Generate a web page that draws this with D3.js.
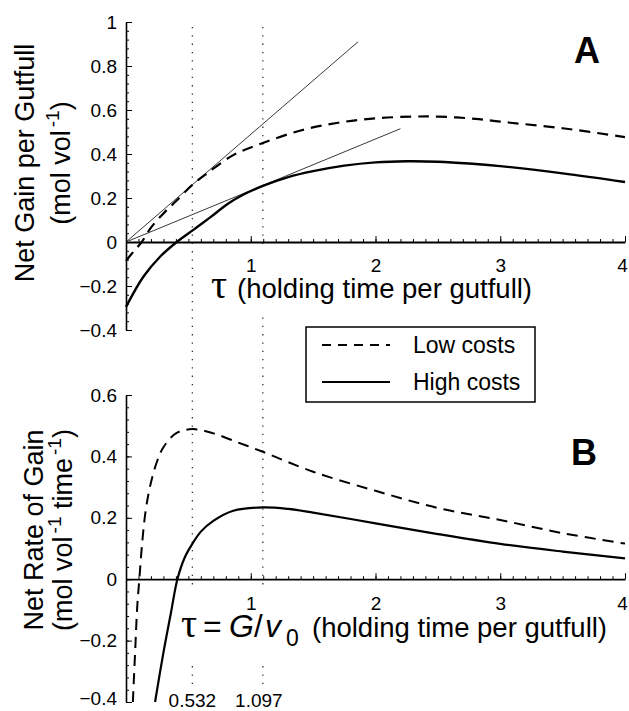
<!DOCTYPE html>
<html lang="en">
<head>
    <meta charset="UTF-8">
    <title>Net gain per gutfull and net rate of gain</title>
    <script src="https://cdnjs.cloudflare.com/ajax/libs/d3/7.8.5/d3.min.js"></script>
    <style>
        body {
            margin: 0;
            padding: 0;
            background-color: white;
        }
        svg text {
            font-family: "Liberation Sans", Arial, Helvetica, sans-serif;
            fill: black;
        }
    </style>
</head>
<body>
    <div id="chart"></div>

    <script>
        // values: [tau, value]
        const lowGain = [
            [0, -0.085], [0.06, -0.044], [0.126, 0], [0.2, 0.065], [0.3, 0.13],
            [0.4, 0.185], [0.532, 0.26], [0.65, 0.312], [0.86, 0.395], [1.097, 0.45],
            [1.4, 0.507], [1.7, 0.542], [2, 0.562], [2.3, 0.57], [2.5, 0.57],
            [2.8, 0.56], [3, 0.547], [3.5, 0.517], [4, 0.477]
        ];
        const highGain = [
            [0, -0.295], [0.139, -0.158], [0.273, -0.067], [0.407, 0], [0.54, 0.055],
            [0.675, 0.112], [0.82, 0.175], [0.95, 0.218], [1.097, 0.255], [1.3, 0.295],
            [1.5, 0.322], [1.75, 0.347], [2, 0.362], [2.25, 0.367], [2.5, 0.365],
            [2.75, 0.357], [3, 0.345], [3.5, 0.312], [4, 0.273]
        ];
        const lowRate = [
            [0.055, -0.4], [0.075, -0.22], [0.09, -0.09], [0.107, 0], [0.13, 0.12],
            [0.16, 0.23], [0.2, 0.315], [0.25, 0.385], [0.3, 0.43], [0.4, 0.475],
            [0.532, 0.489], [0.7, 0.475], [0.9, 0.445], [1.097, 0.415], [1.5, 0.35],
            [2, 0.288], [2.5, 0.232], [3, 0.193], [3.5, 0.15], [4, 0.116]
        ];
        const highRate = [
            [0.233, -0.4], [0.3, -0.239], [0.36, -0.11], [0.412, 0], [0.47, 0.07],
            [0.53, 0.114], [0.6, 0.155], [0.7, 0.19], [0.86, 0.223], [1.097, 0.234],
            [1.3, 0.229], [1.5, 0.217], [2, 0.182], [2.5, 0.147], [3, 0.115],
            [3.5, 0.09], [4, 0.068]
        ];
        // tangent lines from the origin (end points)
        const tangents = [
            [[0, 0], [1.86, 0.91]],
            [[0, 0], [2.2, 0.515]]
        ];
        const optima = [0.532, 1.097];
        const xTicks = [1, 2, 3, 4];
        const gainTicks = [-0.4, -0.2, 0, 0.2, 0.4, 0.6, 0.8, 1];
        const rateTicks = [-0.4, -0.2, 0, 0.2, 0.4, 0.6];
        const legendItems = ["Low costs", "High costs"];

        const width = 629;
        const height = 711;

        const svg = d3.select("#chart")
            .append("svg")
            .attr("width", width)
            .attr("height", height);

        const x = d3.scaleLinear().domain([0, 4]).range([126, 625]);
        const yA = d3.scaleLinear().domain([-0.4, 1]).range([330, 22]);
        const yB = d3.scaleLinear().domain([-0.4, 0.6]).range([702, 395]);

        const minorX = d3.range(1, 40).map(i => i / 10);

        // dotted lines at the optimal holding times
        svg.append("g")
            .selectAll("line")
            .data(optima)
            .join("line")
            .attr("x1", d => x(d))
            .attr("x2", d => x(d))
            .attr("y1", 27)
            .attr("y2", 684)
            .attr("stroke", "#333")
            .attr("stroke-width", 1.3)
            .attr("stroke-dasharray", "1.3,7");

        // white boxes behind the x axis titles hide the dotted lines there
        svg.append("rect").attr("x", 208).attr("y", 247).attr("width", 335).attr("height", 66).attr("fill", "white");
        svg.append("rect").attr("x", 179).attr("y", 585).attr("width", 435).attr("height", 75).attr("fill", "white");

        function drawAxes(y, ticks, minorStep, bottomShift) {
            const minorY = d3.range(Math.round((y.domain()[1] - y.domain()[0]) / minorStep) + 1)
                .map(i => +(y.domain()[0] + i * minorStep).toFixed(3));

            svg.append("g")
                .attr("transform", `translate(${x(0)},0)`)
                .call(d3.axisLeft(y).tickValues(minorY).tickSizeInner(-3).tickSizeOuter(0).tickFormat(""))
                .call(g => g.select(".domain").remove());

            svg.append("g")
                .attr("transform", `translate(${x(0)},0)`)
                .call(d3.axisLeft(y).tickValues(ticks).tickSizeInner(-6).tickSizeOuter(0).tickPadding(9)
                    .tickFormat(d => d3.format("")(+d.toFixed(1))))
                .call(g => g.select(".domain").attr("stroke-width", 1.6))
                .call(g => g.selectAll("text").attr("font-size", 19)
                    .attr("dy", d => d === y.domain()[0] && bottomShift ? "0.12em" : "0.32em"));

            svg.append("g")
                .attr("transform", `translate(0,${y(0)})`)
                .call(d3.axisBottom(x).tickValues(minorX).tickSizeInner(-3).tickSizeOuter(0).tickFormat(""))
                .call(g => g.select(".domain").remove());

            svg.append("g")
                .attr("transform", `translate(0,${y(0)})`)
                .call(d3.axisBottom(x).tickValues(xTicks).tickSizeInner(-6).tickSizeOuter(0).tickPadding(17)
                    .tickFormat(d3.format("d")))
                .call(g => g.select(".domain").attr("stroke-width", 1.8))
                .call(g => g.selectAll("text").attr("font-size", 19)
                    .attr("dx", d => d === 4 ? -3 : 0));
        }

        drawAxes(yA, gainTicks, 0.04, false);
        drawAxes(yB, rateTicks, 0.04, true);

        const lineA = d3.line().x(d => x(d[0])).y(d => yA(d[1])).curve(d3.curveCatmullRom.alpha(0.5));
        const lineB = d3.line().x(d => x(d[0])).y(d => yB(d[1])).curve(d3.curveCatmullRom.alpha(0.5));

        // panel A: tangents and curves
        svg.append("g")
            .selectAll("path")
            .data(tangents)
            .join("path")
            .attr("d", d3.line().x(d => x(d[0])).y(d => yA(d[1])))
            .attr("fill", "none")
            .attr("stroke", "#222")
            .attr("stroke-width", 0.9);

        svg.append("path")
            .datum(lowGain)
            .attr("d", lineA)
            .attr("fill", "none")
            .attr("stroke", "black")
            .attr("stroke-width", 2.2)
            .attr("stroke-dasharray", "11,7");

        svg.append("path")
            .datum(highGain)
            .attr("d", lineA)
            .attr("fill", "none")
            .attr("stroke", "black")
            .attr("stroke-width", 2.4);

        // panel B curves
        svg.append("path")
            .datum(lowRate)
            .attr("d", lineB)
            .attr("fill", "none")
            .attr("stroke", "black")
            .attr("stroke-width", 2)
            .attr("stroke-dasharray", "11,7");

        svg.append("path")
            .datum(highRate)
            .attr("d", lineB)
            .attr("fill", "none")
            .attr("stroke", "black")
            .attr("stroke-width", 2.2);

        // x axis titles
        const titleA = svg.append("text").attr("y", 298);
        titleA.append("tspan").attr("x", 211).attr("font-family", "Liberation Serif, serif").attr("font-size", 40).text("τ");
        titleA.append("tspan").attr("x", 237).attr("font-size", 27.5).text("(holding time per gutfull)");

        const titleB = svg.append("text").attr("y", 637);
        titleB.append("tspan").attr("x", 181).attr("font-family", "Liberation Serif, serif").attr("font-size", 40).text("τ");
        titleB.append("tspan").attr("x", 203).attr("font-size", 32).text("=");
        titleB.append("tspan").attr("x", 229).attr("font-size", 32).attr("font-style", "italic").text("G");
        titleB.append("tspan").attr("x", 254).attr("font-size", 31).text("/");
        titleB.append("tspan").attr("x", 265).attr("font-size", 32).attr("font-style", "italic").text("v");
        titleB.append("tspan").attr("x", 286).attr("font-size", 23).attr("dy", 9).text("0");
        titleB.append("tspan").attr("x", 312).attr("font-size", 27.5).attr("dy", -9).text("(holding time per gutfull)");

        // y axis titles
        function yTitle(cx, cy, lines) {
            const g = svg.append("g").attr("transform", `translate(${cx},${cy}) rotate(-90)`);
            lines.forEach(l => {
                const t = g.append("text").attr("x", 0).attr("y", l.y).attr("text-anchor", "middle").attr("font-size", 27);
                l.parts.forEach(p => {
                    const s = t.append("tspan").text(p.t);
                    if (p.sup) s.attr("font-size", 19).attr("dy", -11).attr("dx", 3);
                    if (p.down) s.attr("dy", 11);
                });
            });
        }

        yTitle(0, 163, [
            {y: 34, parts: [{t: "Net Gain per Gutfull"}]},
            {y: 70, parts: [{t: "(mol vol"}, {t: "-1", sup: true}, {t: ")", down: true}]}
        ]);
        yTitle(0, 530, [
            {y: 43, parts: [{t: "Net Rate of Gain"}]},
            {y: 72, parts: [{t: "(mol vol"}, {t: "-1", sup: true}, {t: " time", down: true}, {t: "-1", sup: true}, {t: ")", down: true}]}
        ]);

        // panel letters
        svg.append("text").attr("x", 587).attr("y", 63).attr("text-anchor", "middle")
            .attr("font-size", 36).attr("font-weight", "bold").text("A");
        svg.append("text").attr("x", 584).attr("y", 465).attr("text-anchor", "middle")
            .attr("font-size", 36).attr("font-weight", "bold").text("B");

        // optimum labels
        svg.append("g")
            .selectAll("text")
            .data(optima)
            .join("text")
            .attr("x", (d, i) => x(d) - (i === 1 ? 4 : 0))
            .attr("y", 707)
            .attr("text-anchor", "middle")
            .attr("font-size", 19)
            .text(d => d3.format(".3f")(d));

        // legend
        const legend = svg.append("g");
        legend.append("rect")
            .attr("x", 306).attr("y", 327).attr("width", 229).attr("height", 75)
            .attr("fill", "white").attr("stroke", "black").attr("stroke-width", 1.5);
        legend.selectAll("line")
            .data(legendItems)
            .join("line")
            .attr("x1", 322).attr("x2", 390)
            .attr("y1", (d, i) => 345 + i * 37)
            .attr("y2", (d, i) => 345 + i * 37)
            .attr("stroke", "black")
            .attr("stroke-width", 1.8)
            .attr("stroke-dasharray", (d, i) => i === 0 ? "9,7" : null);
        legend.selectAll("text")
            .data(legendItems)
            .join("text")
            .attr("x", 413)
            .attr("y", (d, i) => 353 + i * 37)
            .attr("font-size", 23)
            .text(d => d);
    </script>
</body>
</html>
